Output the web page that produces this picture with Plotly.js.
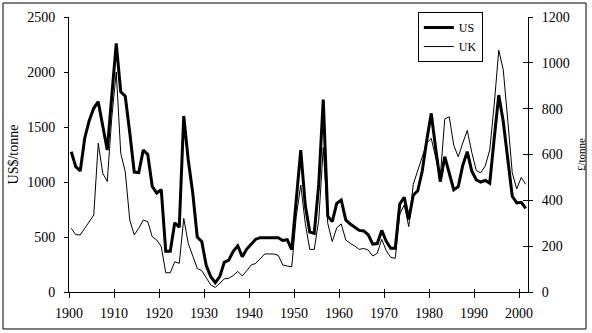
<!DOCTYPE html>
<html>
<head>
<meta charset="utf-8">
<script src="https://cdn.plot.ly/plotly-3.0.1.min.js"></script>
<style>html,body{margin:0;padding:0;background:#fff;}#chart{width:592px;height:333px;}</style>
</head>
<body>
<div id="chart"></div>
<script>
const years = [1900,1901,1902,1903,1904,1905,1906,1907,1908,1909,
1910,1911,1912,1913,1914,1915,1916,1917,1918,1919,
1920,1921,1922,1923,1924,1925,1926,1927,1928,1929,
1930,1931,1932,1933,1934,1935,1936,1937,1938,1939,
1940,1941,1942,1943,1944,1945,1946,1947,1948,1949,
1950,1951,1952,1953,1954,1955,1956,1957,1958,1959,
1960,1961,1962,1963,1964,1965,1966,1967,1968,1969,
1970,1971,1972,1973,1974,1975,1976,1977,1978,1979,
1980,1981,1982,1983,1984,1985,1986,1987,1988,1989,
1990,1991,1992,1993,1994,1995,1996,1997,1998,1999,
2000,2001];

// US price, US$/tonne (left axis)
const usPrice = [1275,1140,1100,1400,1560,1670,1730,1520,1290,1780,
2260,1820,1780,1450,1090,1085,1290,1250,960,900,
930,370,370,630,590,1600,1200,900,500,460,
240,140,85,140,270,290,370,420,320,390,
440,480,494,494,494,494,494,468,475,385,
860,1290,790,545,533,980,1750,690,640,806,
836,655,618,585,560,555,520,436,440,560,
460,397,397,800,860,660,880,920,1100,1380,
1624,1300,1003,1230,1080,930,958,1150,1276,1100,
1020,1000,1015,990,1400,1790,1550,1230,870,810,
815,760];

// UK price, £/tonne (right axis)
const ukPrice = [278,250,249,278,307,336,649,518,482,760,
960,605,525,314,249,278,314,307,241,227,
198,84,84,132,125,321,212,160,103,93,
60,31,20,40,57,60,72,90,70,93,
118,125,145,166,166,166,160,118,113,110,
330,467,300,186,186,314,630,300,220,280,
297,227,212,201,186,190,183,157,169,230,
180,151,147,340,380,285,470,530,600,650,
670,580,500,755,765,640,590,650,705,610,
530,520,550,620,820,1055,970,750,520,450,
500,470];

const tickYears = [1900,1910,1920,1930,1940,1950,1960,1970,1980,1990,2000];
const tickLabels = ["1900","1910","1920","1930","1940","1950","1960","1970","1980","1990","2000"];
const seriesNames = ["US","UK"];

const FONT = "Liberation Serif, Times New Roman, serif";
const tickPos = tickYears.map(y => y - 0.5); // category boundaries, as in the original
const xr = [1899.5, 2001.5];

const traces = [
  {x: years, y: usPrice, name: seriesNames[0], type: 'scatter', mode: 'lines',
   line: {color: '#000', width: 3}, xaxis: 'x', yaxis: 'y'},
  {x: years, y: ukPrice, name: seriesNames[1], type: 'scatter', mode: 'lines',
   line: {color: '#000', width: 1}, xaxis: 'x', yaxis: 'y2'},
  // invisible helper so the inside-tick overlay axes are drawn
  {x: [years[0]], y: [usPrice[0]], type: 'scatter', mode: 'markers', showlegend: false,
   hoverinfo: 'skip', marker: {opacity: 0}, xaxis: 'x2', yaxis: 'y3'}
];

const axBase = {showgrid: false, zeroline: false, linecolor: '#000', linewidth: 1,
  tickcolor: '#000', tickwidth: 1, tickfont: {family: FONT, size: 14, color: '#000'}};

const layout = {
  width: 592, height: 333,
  margin: {l: 69, r: 64, t: 17, b: 41, pad: 0},
  paper_bgcolor: '#fff', plot_bgcolor: '#fff',
  showlegend: true,
  legend: {x: 0.760, y: 1.018, xanchor: 'left', yanchor: 'top',
    bgcolor: '#fff', bordercolor: '#000', borderwidth: 1,
    font: {family: FONT, size: 12, color: '#000'}, tracegroupgap: 0, itemwidth: 30},
  xaxis: Object.assign({}, axBase, {range: xr, tickmode: 'array', tickvals: tickPos,
    ticktext: tickLabels, ticks: 'outside', ticklen: 5, showline: true, anchor: 'y',
    ticklabelstandoff: 3}),
  xaxis2: Object.assign({}, axBase, {range: xr, tickmode: 'array', tickvals: tickPos,
    ticks: 'inside', ticklen: 3, showline: false, showticklabels: false,
    overlaying: 'x', anchor: 'y'}),
  yaxis: Object.assign({}, axBase, {range: [0, 2500], dtick: 500, tick0: 0,
    ticks: 'outside', ticklen: 4, showline: true, ticklabelstandoff: 6,
    title: {text: 'US$/tonne', font: {family: FONT, size: 14, color: '#000'}, standoff: 5}}),
  yaxis2: Object.assign({}, axBase, {range: [0, 1200], dtick: 200, tick0: 0,
    overlaying: 'y', side: 'right', anchor: 'x',
    ticks: 'outside', ticklen: 4, showline: true, ticklabelstandoff: 6,
    title: {text: '£/tonne', font: {family: FONT, size: 11, color: '#000'}, standoff: 8}}),
  yaxis3: Object.assign({}, axBase, {range: [0, 1200], dtick: 200, tick0: 0,
    overlaying: 'y', side: 'right', anchor: 'x',
    ticks: 'inside', ticklen: 5, showline: false, showticklabels: false}),
  shapes: [{type: 'rect', xref: 'paper', yref: 'paper',
    x0: -0.1438, x1: 1.1264, y0: -0.1345, y1: 1.0509,
    line: {color: '#000', width: 1}, fillcolor: 'rgba(0,0,0,0)'}]
};

Plotly.newPlot('chart', traces, layout, {staticPlot: true, displayModeBar: false});
</script>
</body>
</html>
